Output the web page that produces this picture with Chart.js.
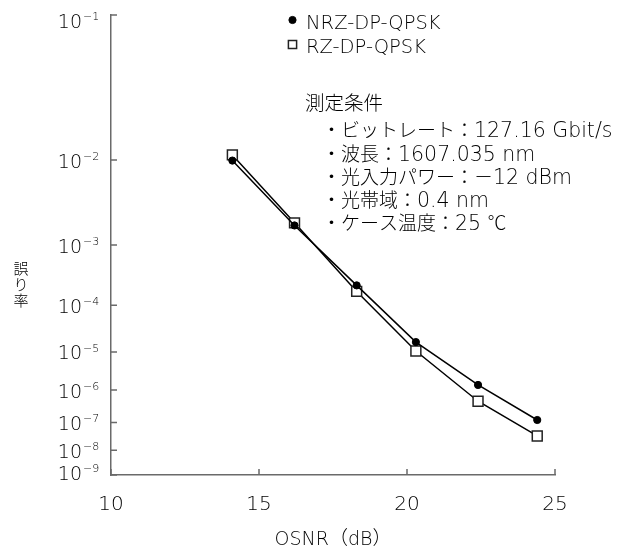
<!DOCTYPE html>
<html>
<head>
<meta charset="utf-8">
<script src="https://cdn.jsdelivr.net/npm/chart.js@4.4.1/dist/chart.umd.min.js"></script>
<style>
  html, body { margin: 0; padding: 0; background: #fff; }
</style>
</head>
<body>
<canvas id="chart" width="635" height="553"></canvas>
<script>
// values
const osnr = [14.1, 16.2, 18.3, 20.3, 22.4, 24.4];
const berNrz = [9.9e-3, 1.85e-3, 2.3e-4, 1.7e-5, 1.4e-6, 1.2e-7];
const berRz = [1.12e-2, 2.0e-3, 1.8e-4, 1.05e-5, 4.7e-7, 3.4e-8];
const xTicks = [10, 15, 20, 25];
const yExponents = [1, 2, 3, 4, 5, 6, 7, 8, 9];
const legendLabels = ['NRZ-DP-QPSK', 'RZ-DP-QPSK'];
const conditionTitle = '測定条件';
const conditionLines = [
  '・ビットレート：127.16 Gbit/s',
  '・波長：1607.035 nm',
  '・光入力パワー：－12 dBm',
  '・光帯域：0.4 nm',
  '・ケース温度：25 ℃'
];
const yTitle = '誤り率';
const xTitle = 'OSNR（dB）';

const LATIN = '"DejaVu Sans", sans-serif';
const LATIN_W = '200';
const CJK = '"Noto Sans CJK JP", sans-serif';
const CJK_W = '300';
const MIXED = '"DejaVu Sans", "Noto Sans CJK JP", sans-serif';
const TEXT_COLOR = '#000';
const AXIS_COLOR = '#6a6a6a';

// BER axis: log(-log(BER)) scale
const tf = v => -Math.log10(-Math.log10(v));
const tfInv = t => Math.pow(10, -Math.pow(10, -t));

class BerScale extends Chart.Scale {
  determineDataLimits() {
    this.min = this.options.min;
    this.max = this.options.max;
  }
  buildTicks() {
    return yExponents.map(n => ({ value: Math.pow(10, -n) }));
  }
  configure() {
    super.configure();
    this._lo = tf(this.min);
    this._hi = tf(this.max);
  }
  getLabelForValue(v) {
    return v.toExponential(1);
  }
  getPixelForValue(v) {
    return this.getPixelForDecimal((tf(v) - this._lo) / (this._hi - this._lo));
  }
  getValueForPixel(p) {
    return tfInv(this._lo + this.getDecimalForPixel(p) * (this._hi - this._lo));
  }
}
BerScale.id = 'ber';
BerScale.defaults = {};
Chart.register(BerScale);

// draws text with latin runs in one font and japanese runs in another
function drawMixed(ctx, text, x, y, latinPx, cjkPx) {
  const isLatin = s => /^[\x20-\x7E\u2212]/.test(s);
  const runs = text.match(/[\x20-\x7E\u2212]+|[^\x20-\x7E\u2212]+/g);
  runs.forEach(r => {
    ctx.font = isLatin(r) ? LATIN_W + ' ' + latinPx + 'px ' + LATIN : CJK_W + ' ' + cjkPx + 'px ' + CJK;
    ctx.fillText(r, x, y);
    x += ctx.measureText(r).width;
  });
}

const decorPlugin = {
  id: 'decor',
  afterDraw(chart) {
    const ctx = chart.ctx;
    const xs = chart.scales.x;
    const ys = chart.scales.y;
    const area = chart.chartArea;
    ctx.save();

    // inside tick marks
    ctx.strokeStyle = AXIS_COLOR;
    ctx.lineWidth = 1.5;
    ctx.beginPath();
    yExponents.forEach(n => {
      const py = ys.getPixelForValue(Math.pow(10, -n));
      ctx.moveTo(area.left, py);
      ctx.lineTo(area.left + 6, py);
    });
    xTicks.forEach(t => {
      const px = xs.getPixelForValue(t);
      ctx.moveTo(px, area.bottom);
      ctx.lineTo(px, area.bottom - 6);
    });
    ctx.stroke();

    // y tick labels 10^-n
    ctx.fillStyle = TEXT_COLOR;
    ctx.textBaseline = 'alphabetic';
    yExponents.forEach(n => {
      let py = ys.getPixelForValue(Math.pow(10, -n));
      py = Math.min(Math.max(py, 20), 472);
      ctx.font = LATIN_W + ' 19px ' + LATIN;
      ctx.textAlign = 'right';
      ctx.fillText('10', 82, py + 7.5);
      ctx.font = LATIN_W + ' 11px ' + LATIN;
      ctx.textAlign = 'left';
      ctx.fillText('\u2212' + n, 83, py);
    });

    // y title, stacked vertically
    ctx.font = CJK_W + ' 15px ' + CJK;
    ctx.textAlign = 'center';
    ctx.textBaseline = 'middle';
    [...yTitle].forEach((ch, i) => ctx.fillText(ch, 21, 268 + i * 16));

    // legend
    const legendY = [21.5, 46];
    chart.data.datasets.forEach((ds, i) => {
      ctx.fillStyle = ds.pointBackgroundColor;
      ctx.strokeStyle = ds.pointBorderColor;
      ctx.lineWidth = ds.pointBorderWidth;
      Chart.helpers.drawPoint(ctx, {
        pointStyle: ds.pointStyle,
        radius: ds.pointStyle === 'rect' ? 5.8 : 3.6,
        borderWidth: ds.pointBorderWidth
      }, 292.5, legendY[i] - 1.5);
      ctx.fillStyle = TEXT_COLOR;
      ctx.textAlign = 'left';
      ctx.textBaseline = 'alphabetic';
      drawMixed(ctx, legendLabels[i], 306, legendY[i] + 7.3, 19.5, 19);
    });

    // measurement conditions
    ctx.fillStyle = TEXT_COLOR;
    ctx.textAlign = 'left';
    ctx.textBaseline = 'alphabetic';
    drawMixed(ctx, conditionTitle, 305, 103 + 7.3, 20, 19.5);
    conditionLines.forEach((s, i) => {
      drawMixed(ctx, s, 322, 130 + i * 23.2 + 7.3, 20.5, 19);
    });

    ctx.restore();
  }
};

const ctx = document.getElementById('chart').getContext('2d');
const chart = new Chart(ctx, {
  type: 'line',
  data: {
    datasets: [
      {
        label: legendLabels[0],
        data: osnr.map((x, i) => ({ x: x, y: berNrz[i] })),
        borderColor: '#000',
        borderWidth: 1.5,
        pointStyle: 'circle',
        pointRadius: 3.6,
        pointBackgroundColor: '#000',
        pointBorderColor: '#000',
        pointBorderWidth: 1
      },
      {
        label: legendLabels[1],
        data: osnr.map((x, i) => ({ x: x, y: berRz[i] })),
        borderColor: '#000',
        borderWidth: 1.5,
        pointStyle: 'rect',
        pointRadius: 7,
        pointBackgroundColor: '#fff',
        pointBorderColor: '#222',
        pointBorderWidth: 1.5
      }
    ]
  },
  options: {
    responsive: false,
    animation: false,
    events: [],
    layout: { padding: { left: 0, right: 80, top: 15, bottom: 0 } },
    plugins: {
      legend: { display: false },
      tooltip: { enabled: false }
    },
    scales: {
      x: {
        type: 'linear',
        min: 10,
        max: 25,
        afterBuildTicks: s => { s.ticks = xTicks.map(v => ({ value: v })); },
        afterFit: s => { s.height = 78; },
        grid: { display: false },
        border: { display: true, color: AXIS_COLOR, width: 1.5 },
        ticks: {
          color: TEXT_COLOR,
          font: { family: LATIN, size: 20, weight: LATIN_W },
          padding: 10,
          maxRotation: 0
        },
        title: {
          display: true,
          text: xTitle,
          color: TEXT_COLOR,
          font: { family: MIXED, size: 19, weight: LATIN_W },
          padding: { top: 2, bottom: 2 }
        }
      },
      y: {
        type: 'ber',
        position: 'left',
        min: 1e-9,
        max: 1e-1,
        afterFit: s => { s.width = 111; },
        grid: { display: false },
        border: { display: true, color: AXIS_COLOR, width: 1.5 },
        ticks: { display: false }
      }
    }
  },
  plugins: [decorPlugin]
});
</script>
</body>
</html>
